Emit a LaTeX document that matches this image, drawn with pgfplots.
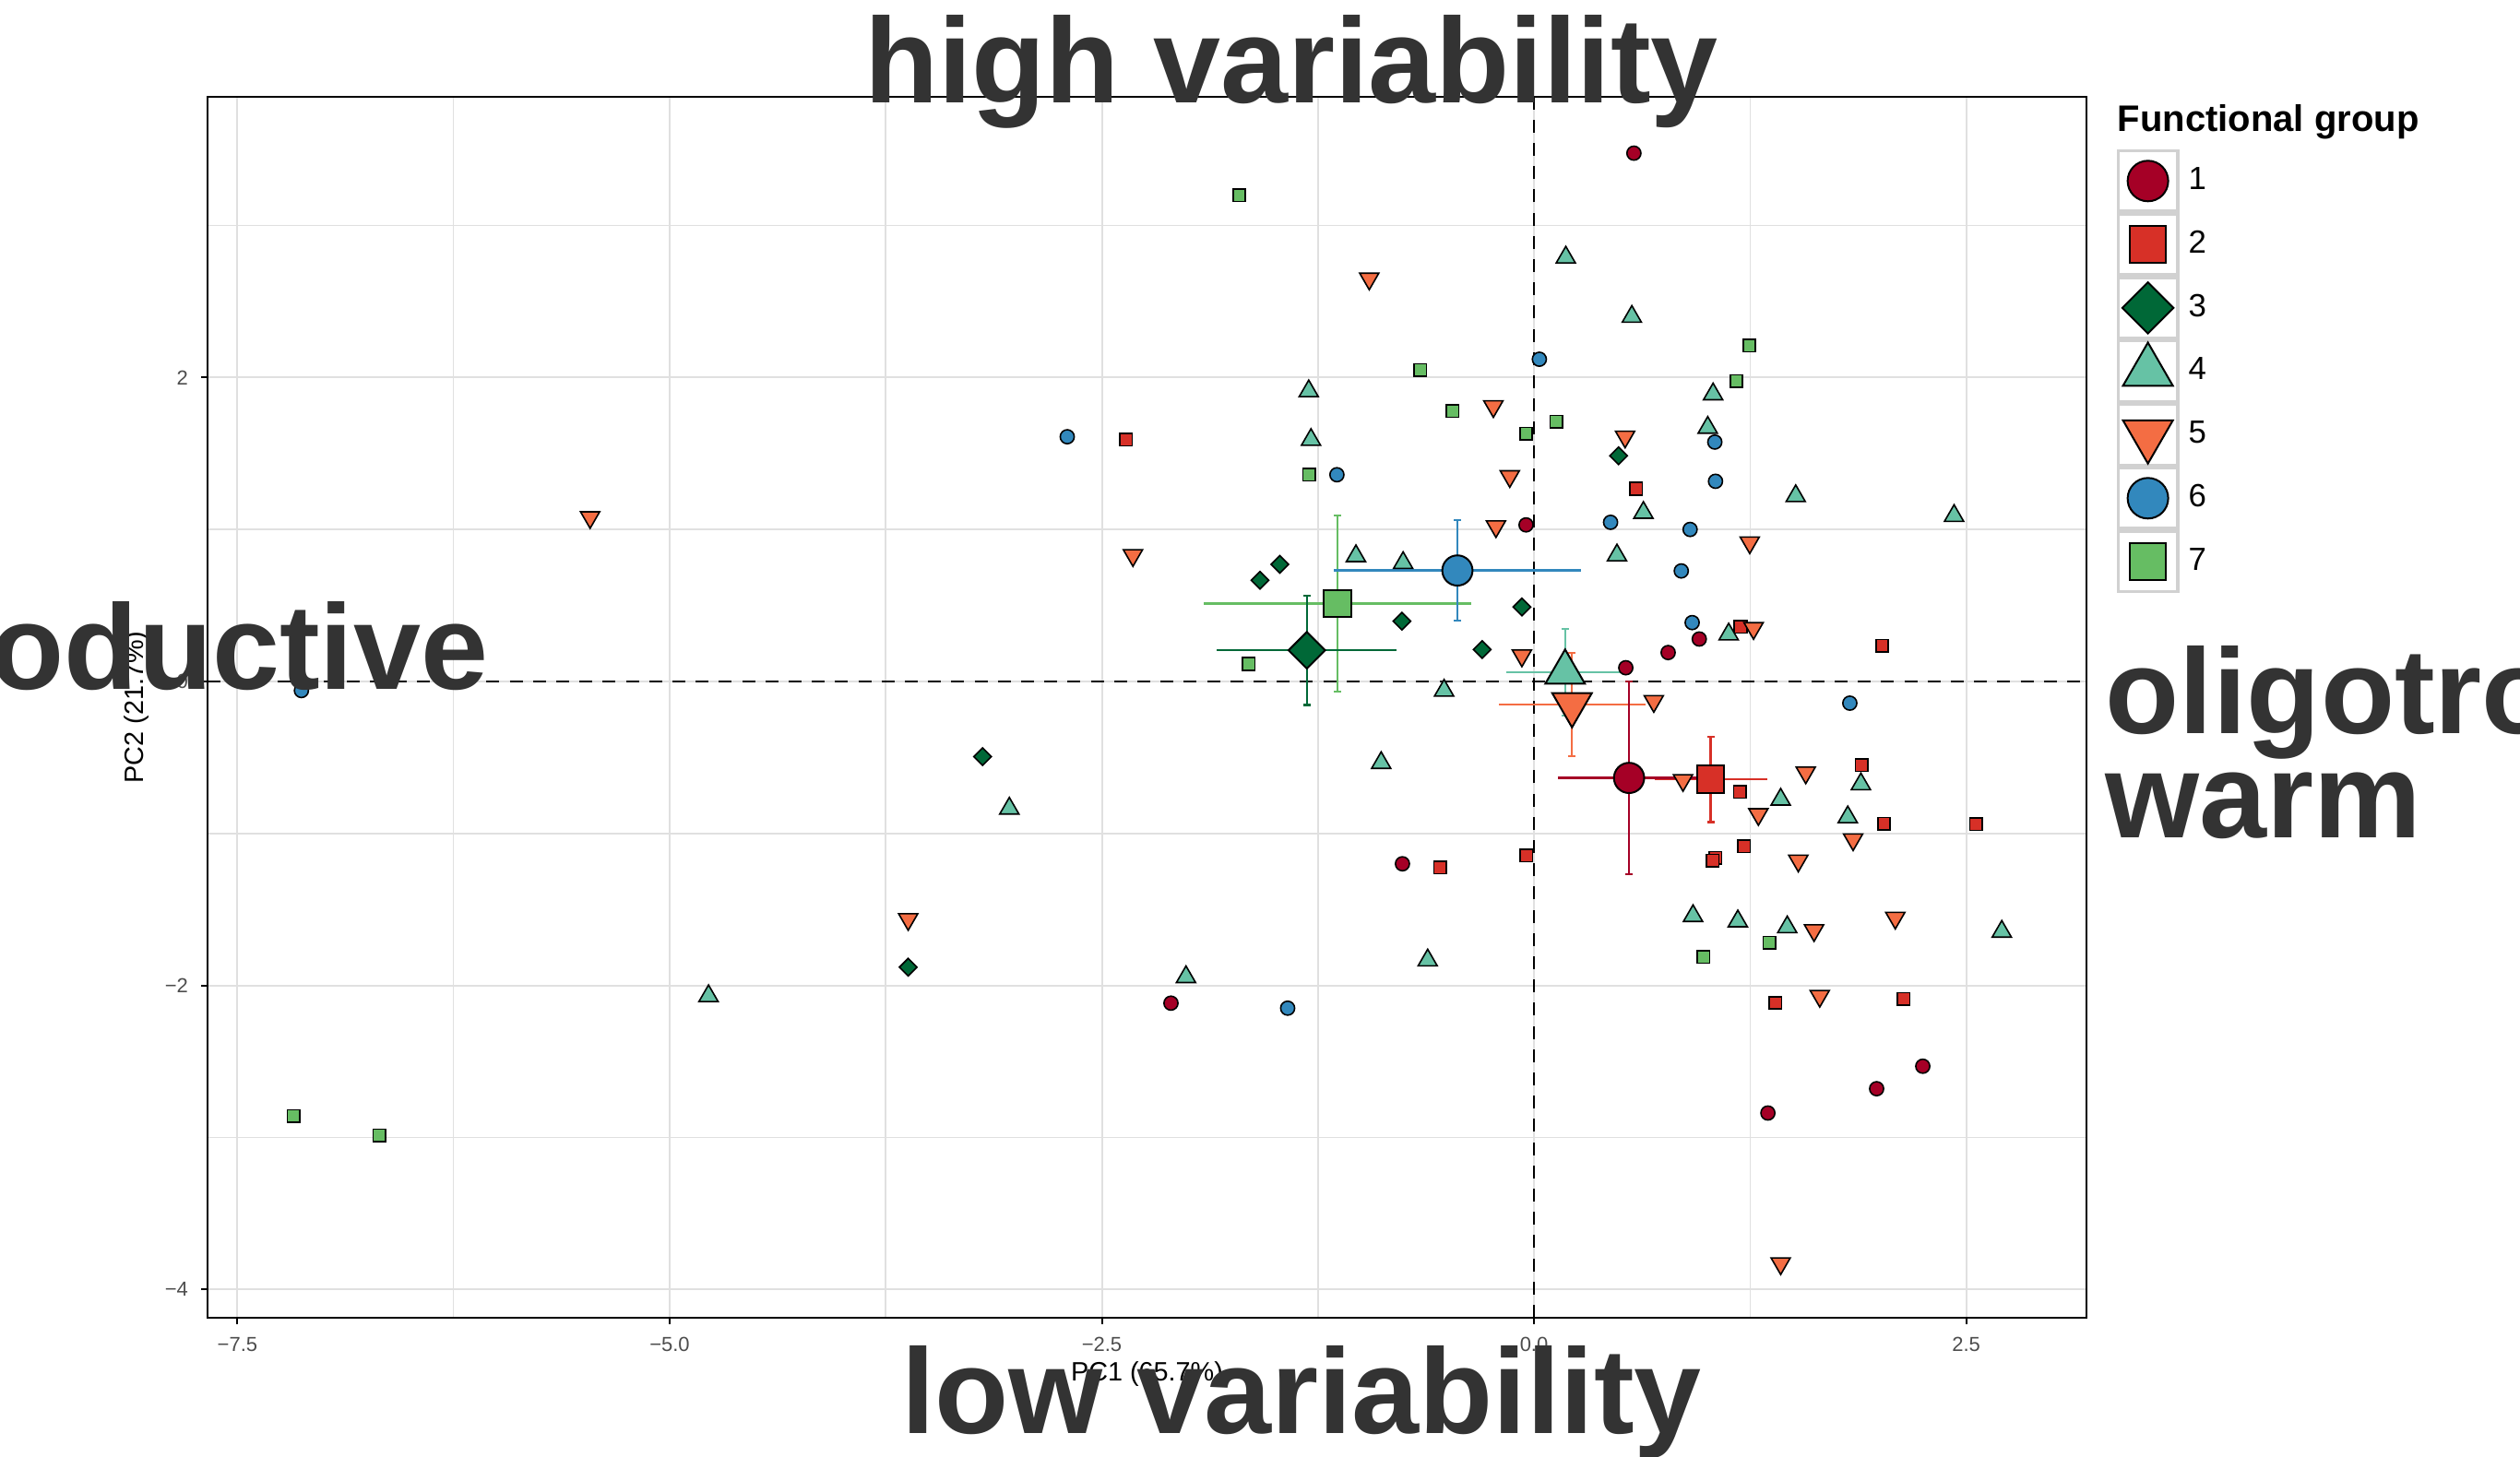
\documentclass[border=0pt]{standalone}
\usepackage{pgfplots}
\pgfplotsset{compat=1.18}
\usepackage{fontspec}
\setmainfont{Liberation Sans}
\definecolor{g1}{HTML}{A50026}
\definecolor{g2}{HTML}{D73027}
\definecolor{g3}{HTML}{006837}
\definecolor{g4}{HTML}{66C2A5}
\definecolor{g5}{HTML}{F46D43}
\definecolor{g6}{HTML}{3288BD}
\definecolor{g7}{HTML}{66BD63}
\definecolor{txt}{HTML}{333333}
\definecolor{tickc}{HTML}{4D4D4D}
\definecolor{gridc}{HTML}{E0E0E0}
\begin{document}
\begin{tikzpicture}[x=1pt,y=1pt]
\useasboundingbox (0,0) rectangle (683,395);
\clip (0,0) rectangle (683,395);
\begin{axis}[
  at={(56.25pt,37.75pt)}, anchor=south west,
  scale only axis, width=509.25pt, height=331pt,
  xmin=-7.673, xmax=3.196, ymin=-4.187, ymax=3.847,
  axis line style={black, line width=0.6pt},
  xtick={-7.5,-5,-2.5,0,2.5}, xticklabels={−7.5,−5.0,−2.5,0.0,2.5},
  ytick={-4,-2,0,2}, yticklabels={−4,−2,0,2},
  minor xtick={-6.25,-3.75,-1.25,1.25}, minor ytick={-3,-1,1,3},
  grid=both,
  major grid style={gridc, line width=0.5pt},
  minor grid style={gridc, line width=0.4pt},
  tick align=outside, major tick length=1.75pt, minor tick length=0pt,
  tick style={black, line width=0.5pt},
  xtick pos=bottom, ytick pos=left,
  ticklabel style={font=\fontsize{5.5}{6.6}\selectfont, text=tickc},
  xlabel={PC1 (65.7\%)}, ylabel={PC2 (21.7\%)},
  label style={font=\fontsize{7.2}{8.6}\selectfont},
  xlabel style={at={(axis description cs:0.5,-0.0514)}, anchor=base},
  ylabel style={at={(axis description cs:-0.0378,0.5)}, anchor=center},
  legend style={at={(axis description cs:1.016,0.957)}, anchor=north west,
    draw=none, fill=none, inner sep=0pt, outer sep=0pt, row sep=0pt, column sep=2.5pt,
    font=\fontsize{8.7}{10}\selectfont, nodes={inner sep=0pt, outer sep=0pt}},
  legend cell align=left,
  legend image code/.code={%
    \draw[draw=black!18, line width=0.8pt, fill=white] (-8.1pt,-8.2pt) rectangle (8.1pt,8.2pt);
    \draw[#1] plot coordinates {(0pt,0pt)};
  },
]
% legend entries
\addlegendimage{only marks, mark=*, mark size=5.5pt, draw=black, fill=g1, line width=0.5pt}
\addlegendentry{1}
\addlegendimage{only marks, mark=square*, mark size=4.9pt, draw=black, fill=g2, line width=0.5pt}
\addlegendentry{2}
\addlegendimage{only marks, mark=square*, mark options={rotate=45}, mark size=4.9pt, draw=black, fill=g3, line width=0.5pt}
\addlegendentry{3}
\addlegendimage{only marks, mark=triangle*, mark size=7.8pt, draw=black, fill=g4, line width=0.5pt}
\addlegendentry{4}
\addlegendimage{only marks, mark=triangle*, mark options={rotate=180}, mark size=7.8pt, draw=black, fill=g5, line width=0.5pt}
\addlegendentry{5}
\addlegendimage{only marks, mark=*, mark size=5.5pt, draw=black, fill=g6, line width=0.5pt}
\addlegendentry{6}
\addlegendimage{only marks, mark=square*, mark size=4.9pt, draw=black, fill=g7, line width=0.5pt}
\addlegendentry{7}

% group points
\addplot[forget plot, only marks, mark=*, mark size=1.9pt, draw=black, fill=g1, line width=0.4pt] coordinates {
(0.578,3.476) (-0.046,1.03) (0.956,0.279) (0.776,0.19) (0.531,0.09) (-0.761,-1.20) (-2.10,-2.117) (2.249,-2.532) (1.982,-2.68) (1.353,-2.84)};
\addplot[forget plot, only marks, mark=square*, mark size=1.68pt, draw=black, fill=g2, line width=0.4pt] coordinates {
(-2.36,1.59) (0.591,1.268) (1.195,0.358) (2.014,0.235) (1.896,-0.55) (1.191,-0.728) (2.025,-0.936) (2.556,-0.939) (-0.045,-1.145) (1.215,-1.085) (1.05,-1.16) (1.034,-1.18) (-0.543,-1.225) (1.396,-2.115) (2.139,-2.09)};
\addplot[forget plot, only marks, mark=square*, mark options={rotate=45}, mark size=1.68pt, draw=black, fill=g3, line width=0.4pt] coordinates {
(-1.47,0.77) (-1.585,0.666) (-0.764,0.397) (-0.07,0.49) (-0.30,0.21) (0.489,1.485) (-3.19,-0.495) (-3.62,-1.88)};
\addplot[forget plot, only marks, mark=triangle*, mark size=3pt, draw=black, fill=g4, line width=0.4pt] coordinates {
(0.184,2.79) (0.566,2.40) (1.036,1.89) (1.005,1.67) (1.514,1.22) (2.43,1.09) (0.633,1.11) (0.48,0.83) (1.126,0.31) (-1.303,1.91) (-1.29,1.59) (-1.03,0.825) (-0.757,0.78) (-0.52,-0.06) (-0.884,-0.536) (-3.035,-0.836) (1.891,-0.676) (1.427,-0.777) (1.815,-0.893) (0.92,-1.543) (1.179,-1.578) (1.465,-1.617) (2.706,-1.646) (-2.013,-1.945) (-0.615,-1.835) (-4.775,-2.07)};
\addplot[forget plot, only marks, mark=triangle*, mark options={rotate=180}, mark size=3pt, draw=black, fill=g5, line width=0.4pt] coordinates {
(-5.46,1.08) (-0.953,2.65) (-0.235,1.81) (-0.14,1.35) (-0.22,1.02) (-2.32,0.83) (-0.07,0.17) (0.527,1.61) (1.248,0.914) (1.27,0.35) (0.693,-0.13) (0.862,-0.65) (1.572,-0.60) (1.298,-0.874) (1.846,-1.04) (1.529,-1.18) (1.62,-1.638) (2.09,-1.556) (1.653,-2.07) (1.427,-3.83) (-3.62,-1.565)};
\addplot[forget plot, only marks, mark=*, mark size=1.9pt, draw=black, fill=g6, line width=0.4pt] coordinates {
(-7.13,-0.06) (-2.70,1.61) (-1.14,1.36) (0.031,2.12) (1.046,1.575) (1.05,1.317) (0.443,1.047) (0.903,1.00) (0.852,0.727) (0.915,0.387) (1.827,-0.143) (-1.425,-2.15)};
\addplot[forget plot, only marks, mark=square*, mark size=1.68pt, draw=black, fill=g7, line width=0.4pt] coordinates {
(-1.705,3.20) (-0.658,2.05) (-0.47,1.78) (-0.046,1.63) (-1.30,1.36) (-1.65,0.115) (0.129,1.71) (1.246,2.21) (1.171,1.977) (1.362,-1.719) (0.981,-1.814) (-7.176,-2.86) (-6.68,-2.987)};

% reference lines
\addplot[forget plot, black, line width=0.6pt, dash pattern=on 3.5pt off 2.8pt] coordinates {(0,-4.187) (0,3.847)};
\addplot[forget plot, black, line width=0.6pt, dash pattern=on 3.5pt off 2.8pt] coordinates {(-7.673,0) (3.196,0)};

% error bars (x without caps, y with caps)
\pgfplotsset{
  xerr/.style={forget plot, only marks, mark=none, error bars/.cd, x dir=both, x explicit, error mark=none, error bar style={draw=#1, line width=0.6pt, solid}},
  yerr/.style={forget plot, only marks, mark=none, error bars/.cd, y dir=both, y explicit, error mark=-, error mark options={rotate=90, draw=#1, line width=0.6pt, mark size=1pt, solid}, error bar style={draw=#1, line width=0.6pt, solid}},
}
\addplot[xerr=g7] coordinates {(-1.137,0.512) +- (0.775,0)};
\addplot[yerr=g7] coordinates {(-1.137,0.512) +- (0,0.58)};
\addplot[xerr=g6] coordinates {(-0.443,0.73) +- (0.717,0)};
\addplot[yerr=g6] coordinates {(-0.443,0.73) +- (0,0.33)};
\addplot[xerr=g3] coordinates {(-1.314,0.205) +- (0.52,0)};
\addplot[yerr=g3] coordinates {(-1.314,0.205) +- (0,0.36)};
\addplot[xerr=g4] coordinates {(0.18,0.06) +- (0.34,0)};
\addplot[yerr=g4] coordinates {(0.18,0.06) +- (0,0.285)};
\addplot[xerr=g5] coordinates {(0.22,-0.152) +- (0.425,0)};
\addplot[yerr=g5] coordinates {(0.22,-0.152) +- (0,0.34)};
\addplot[xerr=g2] coordinates {(1.022,-0.645) +- (0.325,0)};
\addplot[yerr=g2] coordinates {(1.022,-0.645) +- (0,0.28)};
\addplot[xerr=g1] coordinates {(0.55,-0.635) +- (0.41,0)};
\addplot[yerr=g1] coordinates {(0.55,-0.635) +- (0,0.635)};

% group means
\addplot[forget plot, only marks, mark=square*, mark size=3.7pt, draw=black, fill=g7, line width=0.5pt] coordinates {(-1.137,0.512)};
\addplot[forget plot, only marks, mark=*, mark size=4.1pt, draw=black, fill=g6, line width=0.5pt] coordinates {(-0.443,0.73)};
\addplot[forget plot, only marks, mark=square*, mark options={rotate=45}, mark size=3.5pt, draw=black, fill=g3, line width=0.5pt] coordinates {(-1.314,0.205)};
\addplot[forget plot, only marks, mark=triangle*, mark size=6.2pt, draw=black, fill=g4, line width=0.5pt] coordinates {(0.18,0.06)};
\addplot[forget plot, only marks, mark=triangle*, mark options={rotate=180}, mark size=6.2pt, draw=black, fill=g5, line width=0.5pt] coordinates {(0.22,-0.152)};
\addplot[forget plot, only marks, mark=square*, mark size=3.7pt, draw=black, fill=g2, line width=0.5pt] coordinates {(1.022,-0.645)};
\addplot[forget plot, only marks, mark=*, mark size=4.1pt, draw=black, fill=g1, line width=0.5pt] coordinates {(0.55,-0.635)};
\end{axis}
\node[anchor=base west, inner sep=0pt, font=\bfseries\fontsize{10}{12}\selectfont] at (573.75,359.4) {Functional group};
\begin{scope}[every node/.style={inner sep=0pt, text=txt, font=\bfseries\fontsize{32.8}{39}\selectfont}]
\node[anchor=base] at (350,367.1) {high variability};
\node[anchor=base] at (352.75,6.25) {low variability};
\node[anchor=base east] at (132.5,208) {productive};
\node[anchor=base west] at (570.5,196) {oligotrophic};
\node[anchor=base west] at (570.5,167.75) {warm};
\end{scope}
\end{tikzpicture}
\end{document}
